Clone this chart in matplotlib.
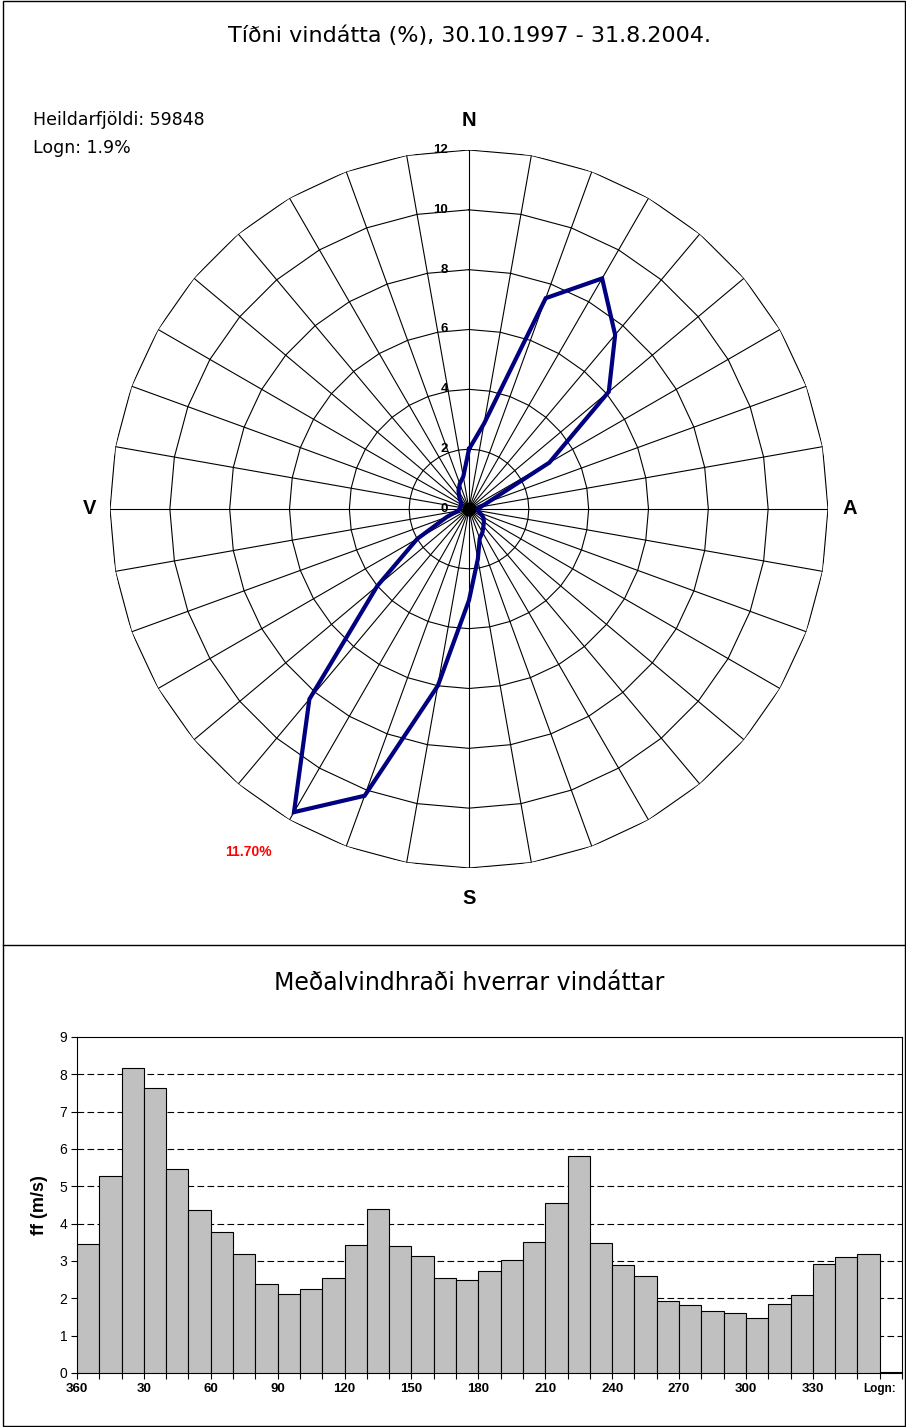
import numpy as np
import matplotlib
matplotlib.use("Agg")
import matplotlib.pyplot as plt
from matplotlib.patches import Rectangle
from matplotlib.lines import Line2D

# vindáttir (gráður), 360 efst og svo réttsælis
directions = [360, 10, 20, 30, 40, 50, 60, 70, 80, 90, 100, 110, 120, 130, 140, 150, 160, 170,
              180, 190, 200, 210, 220, 230, 240, 250, 260, 270, 280, 290, 300, 310, 320, 330, 340, 350]
# tíðni hverrar áttar (%)
freq = [2.0, 2.9, 7.5, 8.9, 7.6, 6.1, 3.1, 0.7, 0.4, 0.25, 0.3, 0.4, 0.55, 0.65, 0.75, 0.9, 1.05, 1.7,
        3.05, 6.0, 10.2, 11.7, 8.3, 4.0, 2.0, 0.8, 0.4, 0.3, 0.3, 0.3, 0.3, 0.35, 0.5, 0.7, 0.9, 1.1]
rings = [2, 4, 6, 8, 10, 12]
radial_labels = [0, 2, 4, 6, 8, 10, 12]

# meðalvindhraði hverrar áttar (m/s), síðast logn
bar_cats = [str(d) for d in directions] + ["Logn:"]
speed = [3.46, 5.28, 8.17, 7.63, 5.47, 4.37, 3.78, 3.20, 2.38, 2.12, 2.26, 2.55, 3.44, 4.40, 3.39, 3.14,
         2.55, 2.50, 2.74, 3.03, 3.51, 4.56, 5.82, 3.48, 2.89, 2.61, 1.94, 1.82, 1.65, 1.62, 1.46, 1.85,
         2.08, 2.93, 3.12, 3.20, 0.03]

W, H = 906, 1427
fig = plt.figure(figsize=(W / 100, H / 100), dpi=100)

# rammar
fig.add_artist(Rectangle((3 / W, 1 / H), 902 / W, 1425 / H, transform=fig.transFigure,
                         fill=False, edgecolor="black", lw=1))
fig.add_artist(Line2D([3 / W, 905 / W], [1 - 945 / H, 1 - 945 / H], transform=fig.transFigure,
                      color="black", lw=1))

# ---- vindrós ----
cx, cy, R = 469, 509, 359
ax = fig.add_axes([(cx - R) / W, 1 - (cy + R) / H, 2 * R / W, 2 * R / H], projection="polar")
ax.set_theta_zero_location("N")
ax.set_theta_direction(-1)
ax.set_ylim(0, 12)
ax.grid(False)
ax.set_xticks([])
ax.set_yticks([])
ax.spines["polar"].set_visible(False)
ax.patch.set_visible(False)

theta = np.deg2rad(directions)
theta_closed = np.append(theta, theta[0])
for r in rings:
    ax.plot(theta_closed, [r] * len(theta_closed), color="black", lw=0.8)
for t in theta:
    ax.plot([t, t], [0, 12], color="black", lw=0.8)

fr = np.array(freq)
ax.plot(theta_closed, np.append(fr, fr[0]), color="#000080", lw=3, solid_joinstyle="miter", zorder=5)
ax.plot([0], [0], "o", color="black", ms=9, zorder=6)

for v in radial_labels:
    ax.annotate(str(v), xy=(0, v), xytext=(-21, 0), textcoords="offset pixels",
                ha="right", va="center", fontsize=9.5, fontweight="bold", family="Liberation Sans")

bold = dict(ha="center", va="center", fontsize=14.5, fontweight="bold", family="Liberation Sans")
fig.text(469 / W, 1 - 120 / H, "N", **bold)
fig.text(469 / W, 1 - 898 / H, "S", **bold)
fig.text(90 / W, 1 - 509 / H, "V", **bold)
fig.text(850 / W, 1 - 509 / H, "A", **bold)

fig.text(248 / W, 1 - 852 / H, "%.2f%%" % max(freq), ha="center", va="center", color="red",
         fontsize=10, fontweight="bold", family="Liberation Sans")

fig.text(469 / W, 1 - 36 / H, "Tíðni vindátta (%), 30.10.1997 - 31.8.2004.", ha="center", va="center",
         fontsize=16, family="DejaVu Sans")
fig.text(33 / W, 1 - 120 / H, "Heildarfjöldi: 59848", ha="left", va="center", fontsize=12.5)
fig.text(33 / W, 1 - 148 / H, "Logn: 1.9%", ha="left", va="center", fontsize=12.5)

# ---- meðalvindhraði ----
fig.text(469 / W, 1 - 983 / H, "Meðalvindhraði hverrar vindáttar", ha="center", va="center",
         fontsize=17, family="DejaVu Sans")

bx = fig.add_axes([77 / W, 1 - 1373 / H, 825 / W, 336 / H])
pos = np.arange(len(bar_cats))
bx.bar(pos, speed, width=1, align="edge", color="#c0c0c0", edgecolor="black", lw=0.8, zorder=3)
bx.set_xlim(0, len(bar_cats))
bx.set_ylim(0, 9)
bx.set_yticks(range(10))
bx.set_yticklabels([str(i) for i in range(10)], fontsize=10, family="Liberation Sans")
edges = np.arange(len(bar_cats) + 1)
bx.set_xticks(edges)
bx.set_xticklabels([bar_cats[k] if (k % 3 == 0 and k < len(bar_cats)) else "" for k in edges],
                   fontsize=9.5, fontweight="bold", family="Liberation Sans")
for lab in bx.get_xticklabels():
    if lab.get_text() == "Logn:":
        lab.set_fontsize(8.5)
bx.tick_params(axis="both", direction="out", length=4, width=0.8, pad=3)
for y in range(1, 9):
    bx.axhline(y, color="black", lw=0.8, ls=(0, (6, 3)), zorder=1)
for s in bx.spines.values():
    s.set_linewidth(0.8)
bx.set_ylabel("ff (m/s)", fontsize=13, fontweight="bold", family="Liberation Sans", labelpad=8)

fig.savefig("out.png", dpi=100)
